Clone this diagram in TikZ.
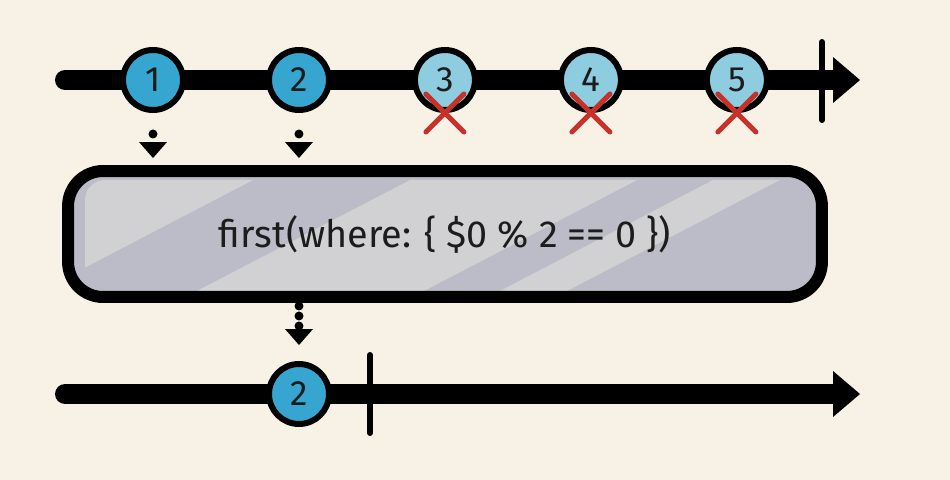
\documentclass[tikz,border=0pt]{standalone}
\usepackage{fontspec}
\setmainfont{Fira Sans}
\usetikzlibrary{arrows.meta,positioning}
\definecolor{paper}{HTML}{F8F1E6}
\definecolor{ink}{HTML}{1C1C1C}
\definecolor{marbleblue}{HTML}{36A6D1}
\definecolor{marblelight}{HTML}{8ECDE0}
\definecolor{crossred}{HTML}{C8302A}
\definecolor{boxdark}{HTML}{BCBCC8}
\definecolor{boxlight}{HTML}{D1D1D4}

\begin{document}
\begin{tikzpicture}[
    x=0.02cm, y=-0.02cm,
    node distance=1.6cm,
    timeline/.style={line width=0.4cm, line cap=round, -{Triangle[length=0.54cm, width=0.92cm, line width=0pt]}},
    done/.style={line width=0.12cm, line cap=round},
    marble/.style={circle, draw, line width=0.12cm, minimum size=1.2cm, inner sep=0pt, fill=marbleblue, text=ink, font=\fontsize{20}{20}\selectfont},
    skipped/.style={marble, fill=marblelight},
    cross/.style={line width=0.1cm, line cap=round, draw=crossred},
    flow/.style={line width=0.18cm, line cap=round, dash pattern=on 0pt off 0.2cm, -{Triangle[length=0.32cm, width=0.56cm, line width=0pt]}},
    op/.style={rectangle, rounded corners=0.7cm, draw, line width=0.24cm, minimum width=15.08cm, minimum height=2.52cm, text=ink, font=\fontsize{21.5}{24}\selectfont}
]
\useasboundingbox (0,0) rectangle (950,480);
\fill[paper] (0,0) rectangle (950,480);

% Source timeline
\coordinate (src start) at (65,80);
\coordinate (src end) at (860,80);
\draw[timeline] (src start) -- (src end);
\draw[done] (822,42) -- (822,120);

\node[marble] (m1) at (153,80) {1};
\node[marble, right=of m1] (m2) {2};
\node[skipped, right=of m2] (m3) {3};
\node[skipped, right=of m3] (m4) {4};
\node[skipped, right=of m4] (m5) {5};

\foreach \m in {m3,m4,m5}
    \draw[cross] (\m.south) +(-19,-19) -- +(19,19) (\m.south) +(-19,19) -- +(19,-19);

% Operator box
\fill[boxdark, rounded corners=0.7cm] (68,171) rectangle (822,297);
\begin{scope}
    \clip[rounded corners=0.4cm] (85,180) rectangle (808,292);
    \foreach \a/\b in {0/253, 410/637, 713/780}
        \fill[boxlight] (\a,180) -- (\b,180) -- (\b-215,292) -- (\a-215,292) -- cycle;
\end{scope}
\node[op] (filter) at (445,234) {first(where: \{ \$0 \% 2 == 0 \})};

\draw[flow, shorten <=0.42cm, shorten >=0.14cm] (m1) -- (m1 |- filter.north);
\draw[flow, shorten <=0.42cm, shorten >=0.14cm] (m2) -- (m2 |- filter.north);

% Result timeline
\coordinate (out start) at (65,394);
\coordinate (out end) at (860,394);
\draw[timeline] (out start) -- (out end);
\draw[done] (370,355) -- (370,433);

\node[marble] (r2) at (299,394) {2};

\draw[flow, shorten <=0.06cm, shorten >=0.32cm] (filter.south -| r2) -- (r2);
\end{tikzpicture}
\end{document}
